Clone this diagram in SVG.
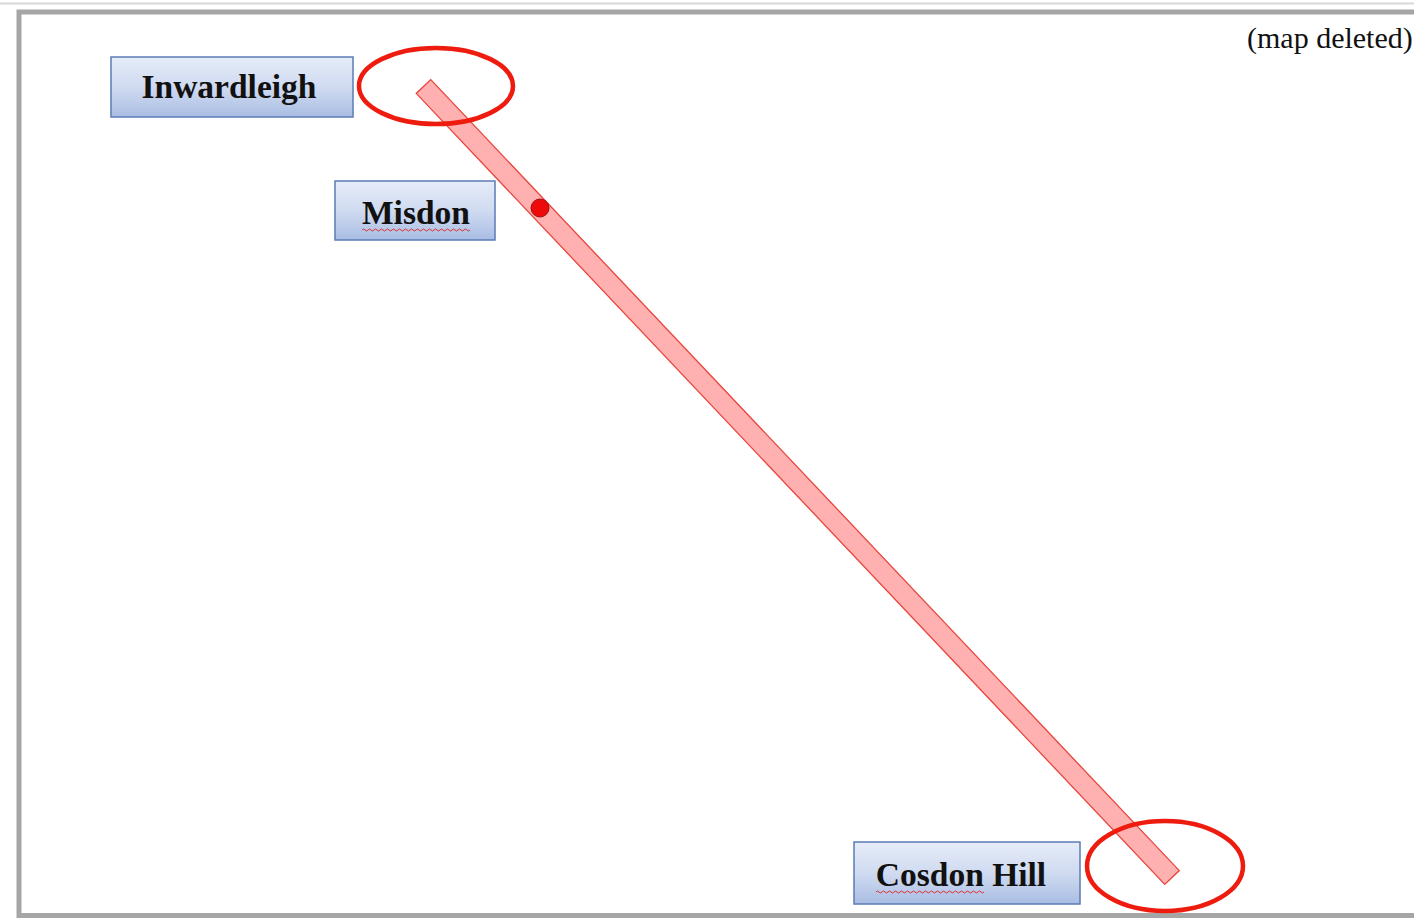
<svg xmlns="http://www.w3.org/2000/svg" width="1414" height="918" viewBox="0 0 1414 918">
  <defs>
    <linearGradient id="boxGrad" x1="0" y1="0" x2="0" y2="1">
      <stop offset="0" stop-color="#e6ecf8"/>
      <stop offset="0.5" stop-color="#d0dbf1"/>
      <stop offset="1" stop-color="#a9bde3"/>
    </linearGradient>
  </defs>
  <style>
    .box { fill: url(#boxGrad); stroke: #5b7cb5; stroke-width: 1.5; }
    .label { font-family: "Liberation Serif", "Times New Roman", serif; font-weight: bold; font-size: 33.5px; fill: #111; text-anchor: middle; }
    .note { font-family: "Liberation Serif", "Times New Roman", serif; font-size: 30px; fill: #111; }
    .ring { fill: none; stroke: #ee1c0e; stroke-width: 4.5; }
    .squiggle { fill: none; stroke: #e03030; stroke-width: 1; }
  </style>
  <rect x="0" y="0" width="1414" height="918" fill="#ffffff"/>
  <line x1="0" y1="3.5" x2="1414" y2="3.5" stroke="#d8d8d8" stroke-width="2"/>
  <path d="M 19 918 L 19 12 L 1414 12" fill="none" stroke="#a6a6a6" stroke-width="5"/>
  <line x1="17" y1="915.5" x2="1414" y2="915.5" stroke="#a6a6a6" stroke-width="5"/>

  <text class="note" x="1247" y="48">(map deleted)</text>

  <g id="connectors">
    <g transform="translate(423.5 86.5) rotate(46.58)">
      <rect x="0" y="-10" width="1089" height="20" fill="#ffb0b0" stroke="#e8453c" stroke-width="1.3"/>
    </g>
  </g>

  <g id="ring-inwardleigh">
    <ellipse class="ring" cx="436" cy="86" rx="77" ry="38"/>
  </g>
  <g id="ring-cosdon">
    <ellipse class="ring" cx="1165" cy="866" rx="78" ry="45"/>
  </g>
  <g id="misdon-dot">
    <circle cx="540" cy="208" r="9" fill="#ee0a0a" stroke="#a01010" stroke-width="1"/>
  </g>

  <g id="inwardleigh">
    <rect class="box" x="111" y="57" width="242" height="60"/>
    <text class="label" x="229" y="98">Inwardleigh</text>
  </g>
  <g id="misdon">
    <rect class="box" x="335" y="181" width="160" height="59"/>
    <text class="label" x="416" y="224">Misdon</text>
    <path class="squiggle" d="M362 230 q1.5 -2 3 0 t3 0 t3 0 t3 0 t3 0 t3 0 t3 0 t3 0 t3 0 t3 0 t3 0 t3 0 t3 0 t3 0 t3 0 t3 0 t3 0 t3 0 t3 0 t3 0 t3 0 t3 0 t3 0 t3 0 t3 0 t3 0 t3 0 t3 0 t3 0 t3 0 t3 0 t3 0 t3 0 t3 0 t3 0 t3 0"/>
  </g>
  <g id="cosdon-hill">
    <rect class="box" x="854" y="842" width="226" height="62"/>
    <text class="label" x="961" y="886">Cosdon Hill</text>
    <path class="squiggle" d="M876 892 q1.5 -2 3 0 t3 0 t3 0 t3 0 t3 0 t3 0 t3 0 t3 0 t3 0 t3 0 t3 0 t3 0 t3 0 t3 0 t3 0 t3 0 t3 0 t3 0 t3 0 t3 0 t3 0 t3 0 t3 0 t3 0 t3 0 t3 0 t3 0 t3 0 t3 0 t3 0 t3 0 t3 0 t3 0 t3 0 t3 0 t3 0"/>
  </g>
</svg>
